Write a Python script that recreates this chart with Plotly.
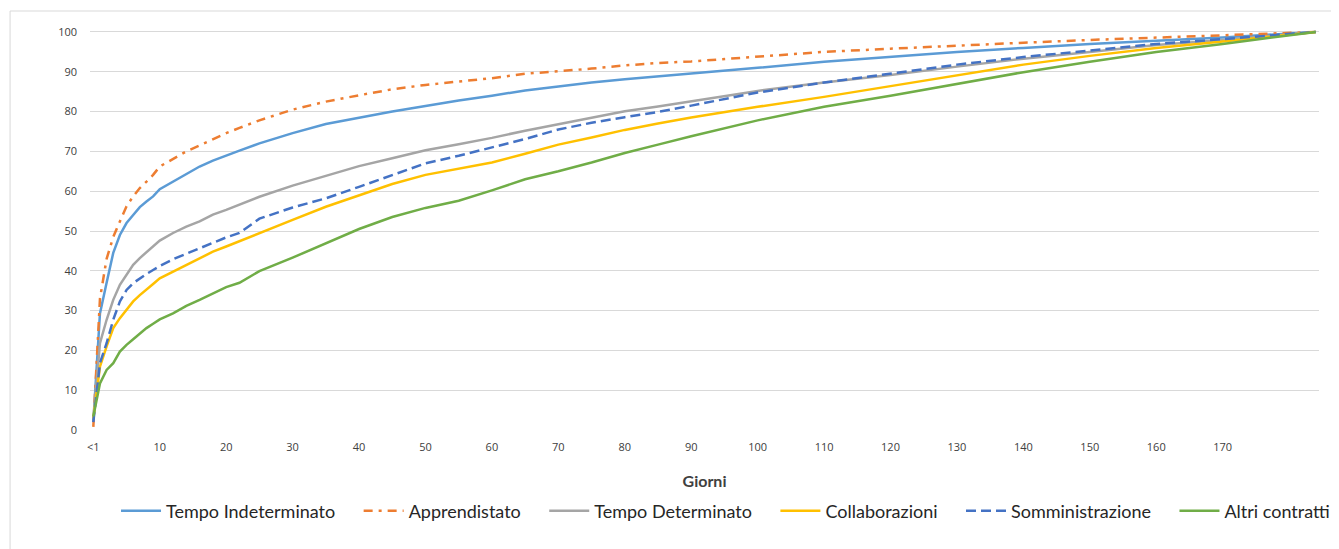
import plotly.graph_objects as go

# giorni (categorie) in cui sono stati letti i valori, 0 = "<1"
giorni = [0, 1, 2, 3, 4, 5, 6, 7, 8, 9, 10, 12, 14, 16, 18, 20, 22, 25,
          30, 35, 40, 45, 50, 55, 60, 65, 70, 75, 80, 85, 90,
          100, 110, 120, 130, 140, 150, 160, 170, 184]

tempo_indeterminato = [2.0, 29.3, 37.0, 44.5, 49.0, 52.0, 54.0, 56.0, 57.4, 58.7, 60.5, 62.4, 64.5, 66.2, 67.7, 69.0, 70.2, 72.0,
                       74.6, 76.9, 78.5, 80.0, 81.4, 82.8, 84.0, 85.3, 86.3, 87.3, 88.1, 88.8, 89.5,
                       91.0, 92.5, 93.7, 95.0, 96.0, 97.0, 97.8, 98.6, 100.0]
apprendistato = [0.8, 33.0, 43.0, 48.5, 52.4, 56.2, 58.7, 60.8, 62.4, 64.1, 66.2, 68.1, 70.0, 71.5, 73.1, 74.6, 75.9, 77.8,
                 80.5, 82.5, 84.1, 85.6, 86.7, 87.6, 88.4, 89.5, 90.1, 90.8, 91.6, 92.2, 92.6,
                 93.8, 95.0, 95.8, 96.6, 97.3, 98.0, 98.6, 99.2, 100.0]
tempo_determinato = [2.3, 21.8, 27.7, 32.7, 36.5, 39.0, 41.5, 43.2, 44.6, 46.1, 47.6, 49.5, 51.1, 52.4, 54.1, 55.3, 56.6, 58.6,
                     61.4, 63.9, 66.3, 68.3, 70.3, 71.8, 73.4, 75.2, 76.8, 78.5, 80.1, 81.3, 82.6,
                     85.2, 87.3, 89.2, 91.3, 93.3, 95.0, 96.7, 98.0, 100.0]
collaborazioni = [2.9, 15.9, 21.0, 25.6, 28.1, 30.2, 32.3, 33.9, 35.2, 36.7, 38.1, 39.8, 41.5, 43.2, 44.8, 46.1, 47.4, 49.5,
                  52.8, 56.1, 59.0, 61.8, 64.1, 65.6, 67.2, 69.4, 71.7, 73.5, 75.4, 77.0, 78.5,
                  81.2, 83.7, 86.4, 89.1, 91.8, 94.0, 96.0, 97.6, 100.0]
somministrazione = [2.0, 16.8, 21.8, 27.7, 32.3, 35.2, 36.9, 38.1, 39.2, 40.2, 41.2, 42.9, 44.3, 45.7, 47.1, 48.4, 49.5, 53.1,
                    55.9, 58.2, 61.1, 64.1, 67.0, 68.9, 71.0, 73.1, 75.5, 77.2, 78.6, 79.9, 81.5,
                    84.8, 87.3, 89.6, 91.8, 93.7, 95.4, 97.0, 98.2, 100.0]
altri_contratti = [3.4, 11.7, 15.1, 16.8, 19.7, 21.4, 22.8, 24.3, 25.6, 26.7, 27.8, 29.3, 31.2, 32.7, 34.4, 35.9, 37.0, 39.9,
                   43.3, 47.0, 50.5, 53.5, 55.8, 57.6, 60.2, 63.0, 65.0, 67.2, 69.6, 71.7, 73.8,
                   77.8, 81.2, 84.0, 86.9, 89.9, 92.5, 95.0, 97.0, 100.0]

tick_pos = [0, 10, 20, 30, 40, 50, 60, 70, 80, 90, 100, 110, 120, 130, 140, 150, 160, 170]
tick_lab = ["<1", "10", "20", "30", "40", "50", "60", "70", "80", "90",
            "100", "110", "120", "130", "140", "150", "160", "170"]

serie = [
    ("Tempo Indeterminato", tempo_indeterminato, "#5B9BD5", "solid"),
    ("Apprendistato", apprendistato, "#ED7D31", "9px,6px,3px,6px"),
    ("Tempo Determinato", tempo_determinato, "#A5A5A5", "solid"),
    ("Collaborazioni", collaborazioni, "#FFC000", "solid"),
    ("Somministrazione", somministrazione, "#4472C4", "10px,5px"),
    ("Altri contratti", altri_contratti, "#70AD47", "solid"),
]

fig = go.Figure()
for i, (nome, valori, colore, tratto) in enumerate(serie):
    # spazio extra tra le voci della legenda
    etichetta = nome if i == len(serie) - 1 else nome + "\u00a0" * 4
    fig.add_trace(go.Scatter(
        x=giorni, y=valori, name=etichetta, mode="lines",
        line=dict(color=colore, width=2.5, dash=tratto)
    ))

# la pagina ha 8px di margine: figura ridotta di conseguenza
# area del grafico posizionata con il domain, cosi' la legenda ha tutta la larghezza
fig.update_layout(
    width=1331, height=541,
    margin=dict(l=10, r=0, t=22, b=119),
    paper_bgcolor="white", plot_bgcolor="white",
    font=dict(family="Open Sans", color="#404040"),
    showlegend=True,
    legend=dict(orientation="h", x=0.0742, xanchor="left",
                y=-0.2025, yanchor="middle",
                font=dict(family="Lato", size=18, color="#262626"),
                itemwidth=40, traceorder="normal"),
    shapes=[dict(type="rect", xref="paper", yref="paper",
                 x0=-0.006, x1=1.03, y0=-0.4, y1=1.0475,
                 line=dict(color="#D9D9D9", width=1), layer="below")],
)

fig.update_xaxes(
    domain=[72 / 1321, 1301 / 1321],
    range=[-0.5, 184.5], tickvals=tick_pos, ticktext=tick_lab,
    showgrid=False, zeroline=False, showline=False, ticks="",
    tickfont=dict(size=11, color="#404040"), ticklabelstandoff=9,
    title=dict(text="<b>Giorni</b>", font=dict(size=16, color="#404040", family="Lato"), standoff=22),
)
fig.update_yaxes(
    range=[0, 100.5], tickvals=[0, 10, 20, 30, 40, 50, 60, 70, 80, 90, 100],
    showgrid=True, gridcolor="#D9D9D9", gridwidth=1, zeroline=False, showline=False,
    tickfont=dict(size=11, color="#404040"), ticklabelstandoff=12,
)

fig.write_html("out.html")
